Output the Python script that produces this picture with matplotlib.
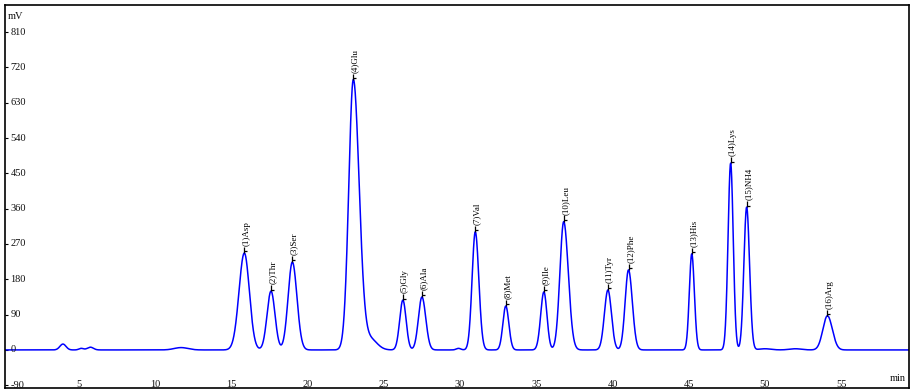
import matplotlib
matplotlib.use("Agg")
import matplotlib.pyplot as plt
import numpy as np

# Named peaks: retention time (min), height (mV), left/right widths (min)
peak_names = ["(1)Asp", "(2)Thr", "(3)Ser", "(4)Glu", "(5)Gly", "(6)Ala",
              "(7)Val", "(8)Met", "(9)Ile", "(10)Leu", "(11)Tyr", "(12)Phe",
              "(13)His", "(14)Lys", "(15)NH4", "(16)Arg"]
peak_times = [15.85, 17.6, 19.0, 23.0, 26.25, 27.5, 31.0, 33.0, 35.5, 36.8,
              39.7, 41.05, 45.2, 47.75, 48.8, 54.1]
peak_heights = [247, 150, 224, 688, 127, 135, 301, 112, 148, 327, 153, 204,
                245, 476, 364, 87]
peak_wl = [0.35, 0.26, 0.28, 0.30, 0.21, 0.23, 0.21, 0.19, 0.21, 0.25, 0.23,
           0.22, 0.16, 0.17, 0.18, 0.30]
peak_wr = [0.33, 0.26, 0.30, 0.38, 0.21, 0.25, 0.23, 0.20, 0.20, 0.30, 0.23,
           0.25, 0.17, 0.17, 0.19, 0.32]

# Small unlabeled bumps on the baseline
minor_times = [3.95, 5.15, 5.75, 11.7, 24.1, 29.9, 50.0, 52.0]
minor_heights = [15, 4, 7, 6, 28, 4, 3, 3]
minor_widths = [0.2, 0.15, 0.2, 0.45, 0.45, 0.15, 0.4, 0.4]

y_ticks = [-90, 0, 90, 180, 270, 360, 450, 540, 630, 720, 810]
x_ticks = [5, 10, 15, 20, 25, 30, 35, 40, 45, 50, 55]

t = np.linspace(0, 60, 6000)
signal = np.zeros_like(t)
for c, h, wl, wr in zip(peak_times, peak_heights, peak_wl, peak_wr):
    w = np.where(t < c, wl, wr)
    signal += h * np.exp(-0.5 * ((t - c) / w) ** 2)
for c, h, w in zip(minor_times, minor_heights, minor_widths):
    signal += h * np.exp(-0.5 * ((t - c) / w) ** 2)

fig = plt.figure(figsize=(9.13, 3.92), dpi=100)
ax = fig.add_axes([5 / 913, 4 / 392, 904 / 913, 383 / 392])
ax.plot(t, signal, color="#0000ff", lw=1.1)

ax.set_xlim(0.15, 59.45)
ax.set_ylim(-97, 879)

font = dict(family="Liberation Serif", size=7.5, color="#111111")

# Peak labels with a short marker line
for name, c, h in zip(peak_names, peak_times, peak_heights):
    ax.vlines(c, h, h + 16, color="black", lw=0.9)
    ax.hlines(h + 4, c, c + 0.2, color="black", lw=0.9)
    ax.text(c + 0.12, h + 18, name, rotation=90, ha="center", va="bottom",
            family="Liberation Serif", size=6.5, color="black")

# y tick labels inside the frame
ax.set_yticks(y_ticks)
ax.set_yticklabels([])
ax.tick_params(axis="y", direction="in", length=2, width=0.8)
for v in y_ticks:
    ax.text(0.006, v, str(v), transform=ax.get_yaxis_transform(),
            ha="left", va="center", clip_on=True, **font)

# x tick labels, cut by the bottom frame
ax.set_xticks([])
for v in x_ticks:
    ax.text(v, -89, str(v), ha="center", va="center", clip_on=True, **font)

ax.text(0.003, 0.982, "mV", transform=ax.transAxes, ha="left", va="top", **font)
ax.text(0.988, 0.025, "min", transform=ax.transAxes, ha="center", va="center", **font)

for s in ax.spines.values():
    s.set_linewidth(1.2)

fig.savefig("out.png", dpi=100)
